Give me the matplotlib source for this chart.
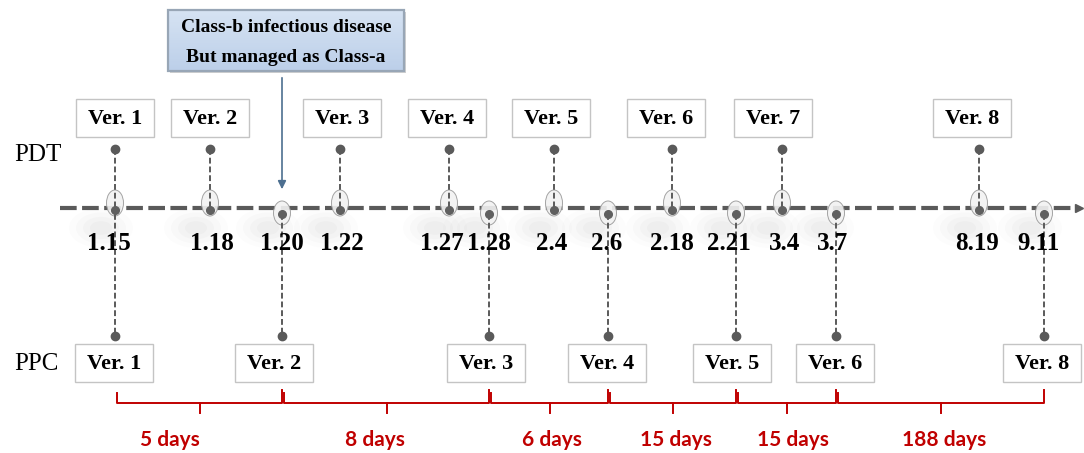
import matplotlib.pyplot as plt
import numpy as np
from matplotlib.patches import Rectangle, Ellipse
from matplotlib.colors import LinearSegmentedColormap

# Timeline data
dates = ['1.15', '1.18', '1.20', '1.22', '1.27', '1.28', '2.4',
         '2.6', '2.18', '2.21', '3.4', '3.7', '8.19', '9.11']
pdt_dates = ['1.15', '1.18', '1.22', '1.27', '2.4', '2.18', '3.4', '8.19']
pdt_versions = ['Ver. 1', 'Ver. 2', 'Ver. 3', 'Ver. 4',
                'Ver. 5', 'Ver. 6', 'Ver. 7', 'Ver. 8']
ppc_dates = ['1.15', '1.20', '1.28', '2.6', '2.21', '3.7', '9.11']
ppc_versions = ['Ver. 1', 'Ver. 2', 'Ver. 3', 'Ver. 4',
                'Ver. 5', 'Ver. 6', 'Ver. 8']
intervals = ['5 days', '8 days', '6 days', '15 days', '15 days', '188 days']
callout_lines = ['Class-b infectious disease', 'But managed as Class-a']
callout_date = '1.20'

# Layout (pixel-like canvas, the timeline is not to scale)
date_x = [115, 210, 282, 340, 449, 489, 554, 608, 672, 736, 782, 836, 979, 1044]
label_x = [109, 212, 282, 342, 442, 489, 552, 607, 672, 729, 785, 833, 977, 1038]
pdt_box_x = [115, 210, 342, 447, 551, 666, 773, 972]
ppc_box_x = [114, 274, 486, 607, 732, 835, 1042]
interval_label_x = [170, 375, 552, 676, 793, 944]
xpos = dict(zip(dates, date_x))
line_y = 208
pdt_dot_y, ppc_dot_y = 149, 336
top_box_y, bot_box_y = 118, 363
box_w, box_h = 78, 38

serif = ['Liberation Serif', 'DejaVu Serif']
dark = '#5a5a5a'

fig = plt.figure(figsize=(10.84, 4.53), dpi=100)
ax = fig.add_axes([0, 0, 1, 1])
ax.set_xlim(0, 1084)
ax.set_ylim(453, 0)
ax.axis('off')

# row labels
ax.text(14, 155, 'PDT', fontsize=18, family=serif, va='center', ha='left')
ax.text(14, 364, 'PPC', fontsize=18, family=serif, va='center', ha='left')

# soft shadows under the points
for d in dates:
    x = xpos[d]
    for w, a in [(64, 0.025), (50, 0.03), (36, 0.035), (22, 0.04)]:
        ax.add_patch(Ellipse((x - 14, 228), w, w * 0.62, color='gray',
                             alpha=a, lw=0, zorder=1))

# main timeline
ax.plot([60, 1074], [line_y, line_y], color=dark, lw=3.0,
        dashes=(4.0, 1.3), zorder=2, solid_capstyle='butt')
ax.plot([1079], [line_y], marker='>', color=dark, markersize=6, zorder=2)


def version_box(x, y, label):
    ax.add_patch(Rectangle((x - box_w / 2, y - box_h / 2), box_w, box_h,
                           facecolor='white', edgecolor='#c4c4c4', lw=1,
                           zorder=3))
    ax.text(x, y + 1, label, fontsize=16, fontweight='bold', family=serif,
            ha='center', va='center', zorder=4)


# PDT releases
for d, v, bx in zip(pdt_dates, pdt_versions, pdt_box_x):
    x = xpos[d]
    ax.add_patch(Ellipse((x, 203), 17, 26, facecolor='#f2f2f2', alpha=0.9,
                         edgecolor='#9a9a9a', lw=0.7, zorder=3))
    ax.plot([x, x], [pdt_dot_y, 210], color=dark, lw=1.4,
            dashes=(3, 1.5), zorder=4)
    ax.plot([x], [pdt_dot_y], 'o', color=dark, markersize=6, zorder=5)
    ax.plot([x], [210], 'o', color='#606060', markersize=5.5, zorder=5)
    version_box(bx, top_box_y, v)

# PPC releases
for d, v, bx in zip(ppc_dates, ppc_versions, ppc_box_x):
    x = xpos[d]
    if d not in pdt_dates:
        ax.add_patch(Ellipse((x, 213), 17, 24, facecolor='#f2f2f2', alpha=0.9,
                             edgecolor='#9a9a9a', lw=0.7, zorder=3))
        ax.plot([x], [214], 'o', color='#606060', markersize=5.5, zorder=5)
    ax.plot([x, x], [214, ppc_dot_y], color=dark, lw=1.4,
            dashes=(3, 1.5), zorder=4)
    ax.plot([x], [ppc_dot_y], 'o', color=dark, markersize=6, zorder=5)
    version_box(bx, bot_box_y, v)

# date labels
for d, lx in zip(dates, label_x):
    ax.text(lx, 243, d, fontsize=18, fontweight='bold', family=serif,
            ha='center', va='center', zorder=6)

# callout
cx = xpos[callout_date]
grad = np.linspace(0, 1, 50).reshape(-1, 1)
cmap = LinearSegmentedColormap.from_list('cb', ['#d6e3f3', '#bccfe9'])
ax.add_patch(Rectangle((170, 12), 236, 61, facecolor='#d0d0d0',
                       lw=0, zorder=2))
ax.imshow(grad, extent=(168, 404, 71, 10), cmap=cmap, aspect='auto', zorder=3)
ax.add_patch(Rectangle((168, 10), 236, 61, facecolor='none',
                       edgecolor='#98a6b6', lw=1.6, zorder=4))
ax.text(286, 28, callout_lines[0], fontsize=14, fontweight='bold',
        family=serif, ha='center', va='center', zorder=5)
ax.text(286, 57, callout_lines[1], fontsize=14, fontweight='bold',
        family=serif, ha='center', va='center', zorder=5)
ax.annotate('', xy=(cx, 192), xytext=(cx, 75),
            arrowprops=dict(arrowstyle='-|>', color='#4d6f90', lw=1.2,
                            mutation_scale=12), zorder=5)

# interval brackets
red = '#c00000'
ppc_x = [xpos[d] for d in ppc_dates]
by = 403
for i, (lab, lx) in enumerate(zip(intervals, interval_label_x)):
    x0, x1 = ppc_x[i] + 2, ppc_x[i + 1]
    xm = (x0 + x1) / 2
    ax.plot([x0, x0, x1, x1], [393, by, by, 390], color=red, lw=1.4,
            zorder=3)
    ax.plot([xm, xm], [by, 413], color=red, lw=1.4, zorder=3)
    ax.text(lx, 440, lab, fontsize=15, fontweight='bold', family='Lato',
            color=red, ha='center', va='center')

plt.savefig('out.png', dpi=100)
